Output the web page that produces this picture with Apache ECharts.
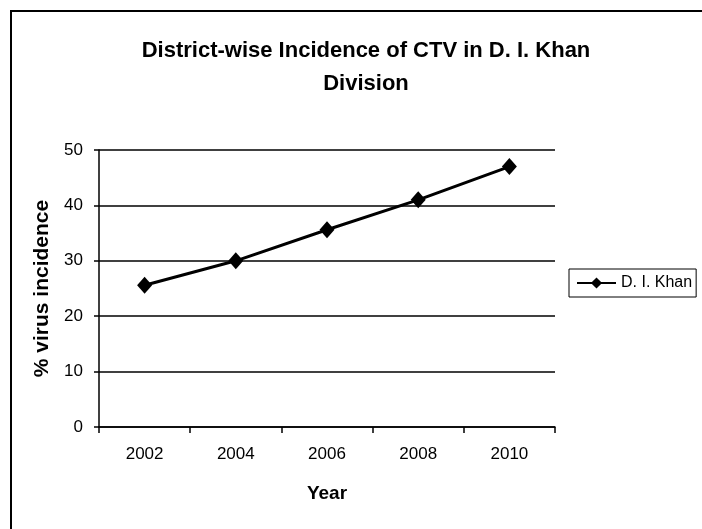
<!DOCTYPE html>
<html><head><meta charset="utf-8">
<script src="https://cdn.jsdelivr.net/npm/echarts@6/dist/echarts.min.js"></script>
<style>html,body{margin:0;padding:0;background:#fff}#c{width:702px;height:529px}</style>
</head><body><div id="c"></div>
<script>
const years = ['2002','2004','2006','2008','2010'];
const incidence = [25.6, 30.0, 35.6, 41.0, 47.0];
const seriesName = 'D. I. Khan';
const titleText = 'District-wise Incidence of CTV in D. I. Khan\nDivision';

const chart = echarts.init(document.getElementById('c'), null, {renderer:'canvas'});
const F = 'Liberation Sans, Arial, sans-serif';
chart.setOption({
  animation:false,
  backgroundColor:'#fff',
  graphic:[{type:'rect', shape:{x:11,y:11,width:720,height:540}, style:{fill:'none',stroke:'#000',lineWidth:2}, z:100}],
  title:{text:titleText, left:361, top:29, textAlign:'center',
    textStyle:{fontFamily:F,fontSize:22,fontWeight:'bold',color:'#000',lineHeight:33}},
  legend:{data:[{name:seriesName}], left:569, top:269, orient:'vertical',
    borderColor:'#000', borderWidth:1, padding:[6,4,6,7], itemWidth:39, itemHeight:14, itemGap:0,
    textStyle:{fontFamily:F,fontSize:16,color:'#000'}},
  grid:{left:99, right:147, top:150, bottom:102},
  xAxis:{type:'category', data:years, boundaryGap:true, name:'Year', nameLocation:'middle', nameGap:57,
    nameTextStyle:{fontFamily:F,fontSize:19,fontWeight:'bold',color:'#000'},
    axisLine:{lineStyle:{color:'#000',width:1.5}}, axisTick:{show:true,length:6,lineStyle:{color:'#000',width:1.5}},
    axisLabel:{fontFamily:F,fontSize:17,color:'#000',margin:19}},
  yAxis:{type:'value', min:0, max:50, interval:10, name:'% virus incidence', nameLocation:'middle', nameGap:42, nameRotate:90,
    nameTextStyle:{fontFamily:F,fontSize:21,fontWeight:'bold',color:'#000'},
    axisLine:{show:true,lineStyle:{color:'#000',width:1.5}}, axisTick:{show:true,length:5,lineStyle:{color:'#000',width:1.5}},
    splitLine:{lineStyle:{color:'#000',width:1.5}},
    axisLabel:{fontFamily:F,fontSize:17,color:'#000',margin:16}},
  series:[{name:seriesName, type:'line', data:incidence, symbol:'diamond', symbolSize:[15,17],
    lineStyle:{color:'#000',width:3}, itemStyle:{color:'#000'}}]
});
</script></body></html>
